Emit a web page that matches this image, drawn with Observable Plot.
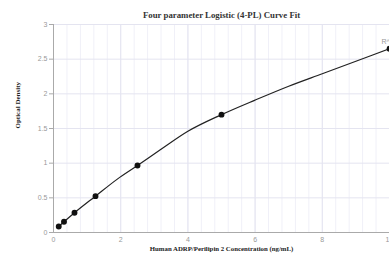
<!DOCTYPE html>
<html><head><meta charset="utf-8">
<script src="https://cdn.jsdelivr.net/npm/d3@7"></script>
<script src="https://cdn.jsdelivr.net/npm/@observablehq/plot@0.6"></script>
<style>
html,body{margin:0;padding:0;overflow:hidden;background:#fff;}
</style>
</head><body>
<div id="chart"></div>
<script>
const title = "Four parameter Logistic (4-PL) Curve Fit";
const xLabel = "Human ADRP/Perilipin 2 Concentration (ng/mL)";
const yLabel = "Optical Density";
const r2Label = "R^2=1";
const stdConc = [0.156, 0.3125, 0.625, 1.25, 2.5, 5, 10];
const stdOD = [0.087, 0.154, 0.284, 0.524, 0.966, 1.70, 2.65];
const curveConc = [0.156, 0.3125, 0.625, 1.25, 1.9, 2.5, 3.2, 4.0, 5.0, 6.0, 7.0, 8.0, 9.0, 10.0];
const curveOD = [0.087, 0.154, 0.284, 0.524, 0.77, 0.966, 1.2, 1.46, 1.70, 1.91, 2.11, 2.29, 2.47, 2.65];
const xTicks = [0, 2, 4, 6, 8, 10];
const yTicks = [0, 0.5, 1, 1.5, 2, 2.5, 3];
const xMinor = d3.range(0, 10.01, 0.4).map(v => +v.toFixed(2));

const points = stdConc.map((x, i) => ({x, y: stdOD[i]}));
const curve = curveConc.map((x, i) => ({x, y: curveOD[i]}));

const gridMinor = "#f0f0f8";
const gridMajor = "#e4e4f0";
const axisCol = "#aaaaaa";
const tickText = "#999999";
const fmt = d => String(d);

const chart = Plot.plot({
  width: 389,
  height: 262,
  marginTop: 24,
  marginBottom: 30,
  marginLeft: 53,
  marginRight: 0,
  style: {background: "#fff", fontFamily: "'Liberation Sans', Arial, sans-serif", fontSize: "7px", overflow: "hidden"},
  x: {domain: [0, 10], ticks: xTicks, label: null, tickSize: 0, tickPadding: 5},
  y: {domain: [0, 3], ticks: yTicks, label: null, tickSize: 4, tickPadding: 2},
  marks: [
    Plot.ruleX(xMinor, {stroke: gridMinor, strokeWidth: 1}),
    Plot.ruleX(xTicks, {stroke: gridMajor, strokeWidth: 1}),
    Plot.ruleY(yTicks, {stroke: gridMajor, strokeWidth: 1}),
    Plot.axisX({ticks: xTicks, tickFormat: fmt, tickSize: 0, tickPadding: 5, color: tickText, label: null, fontSize: 7}),
    Plot.axisY({ticks: yTicks, tickFormat: fmt, tickSize: 4, tickPadding: 2, color: tickText, stroke: axisCol, label: null, fontSize: 7}),
    Plot.ruleY([0], {stroke: axisCol}),
    Plot.ruleX([0], {stroke: axisCol}),
    Plot.line(curve, {x: "x", y: "y", stroke: "#222", strokeWidth: 1.2, curve: "monotone-x"}),
    Plot.dot(points, {x: "x", y: "y", r: 2.2, fill: "#111", stroke: "#111"}),
    Plot.text([r2Label], {x: 10, y: 2.65, text: d => d, dx: -8, dy: -7, textAnchor: "start", fill: tickText, fontSize: 7}),
    Plot.text([title], {frameAnchor: "top", dy: -13, text: d => d, fontFamily: "'Liberation Serif', 'Times New Roman', serif", fontWeight: "bold", fontSize: 8.8, fill: "#333"}),
    Plot.text([xLabel], {frameAnchor: "bottom", dy: 18, text: d => d, fontFamily: "'Liberation Serif', 'Times New Roman', serif", fontWeight: "bold", fontSize: 6.8, fill: "#222"}),
    Plot.text([yLabel], {frameAnchor: "left", dx: -36, rotate: -90, text: d => d, fontFamily: "'Liberation Serif', 'Times New Roman', serif", fontWeight: "bold", fontSize: 7, fill: "#222"})
  ]
});
document.getElementById("chart").append(chart);
</script>
</body></html>
